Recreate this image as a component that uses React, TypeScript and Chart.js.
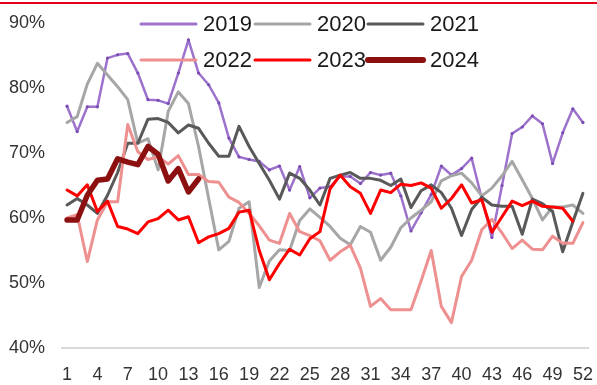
import React, { useEffect, useRef } from 'react';
import { Chart, registerables } from 'chart.js';

Chart.register(...registerables);

// Week numbers along the x axis
const weeks = [
  '1', '2', '3', '4', '5', '6', '7', '8', '9', '10', '11', '12', '13',
  '14', '15', '16', '17', '18', '19', '20', '21', '22', '23', '24', '25', '26',
  '27', '28', '29', '30', '31', '32', '33', '34', '35', '36', '37', '38', '39',
  '40', '41', '42', '43', '44', '45', '46', '47', '48', '49', '50', '51', '52',
];

// Weekly rate (%) by year
const rate2019 = [
  77.2, 73.3, 77.1, 77.1, 84.6, 85.1, 85.3, 82.3, 78.2, 78.1, 77.6, 82.3, 87.4,
  82.3, 80.5, 77.7, 72.3, 69.4, 69.0, 68.7, 67.4, 68.0, 64.3, 67.9, 63.1, 64.6,
  64.8, 66.4, 66.4, 65.3, 67.0, 66.6, 66.9, 63.4, 58.0, 60.8, 63.6, 68.0, 66.6,
  67.6, 69.2, 63.0, 57.0, 65.0, 73.0, 74.0, 75.7, 74.5, 68.4, 73.1, 76.8, 74.7,
];
const rate2020 = [
  74.7, 75.6, 80.6, 83.8, 82.0, 80.2, 78.2, 71.5, 72.2, 67.4, 76.4, 79.4, 77.6,
  71.0, 63.0, 55.1, 56.4, 61.5, 62.5, 49.3, 53.4, 55.1, 55.0, 59.6, 61.4, 60.1,
  58.7, 56.9, 55.9, 58.7, 57.8, 53.5, 55.5, 58.5, 60.0, 61.2, 62.5, 65.7, 66.5,
  66.9, 65.4, 63.4, 64.6, 66.5, 68.7, 65.9, 63.0, 59.7, 61.7, 61.7, 62.0, 60.7,
];
const rate2021 = [
  62.0, 63.0, 62.0, 60.7, 63.5, 67.0, 71.5, 71.5, 75.2, 75.3, 74.7, 73.1, 74.3,
  73.8, 71.5, 69.5, 69.5, 74.1, 71.0, 68.4, 65.8, 62.9, 66.9, 66.1, 64.3, 62.0,
  66.1, 66.6, 67.0, 66.1, 66.1, 65.8, 65.0, 66.0, 61.6, 64.2, 65.1, 63.9, 61.5,
  57.3, 61.3, 63.2, 62.0, 61.8, 61.8, 57.5, 62.9, 62.2, 61.0, 54.8, 59.4, 63.8,
];
const rate2022 = [
  60.0, 60.5, 53.3, 59.7, 62.5, 62.5, 74.4, 70.2, 69.0, 69.4, 68.3, 69.6, 66.7,
  66.7, 65.6, 65.5, 63.2, 62.4, 60.7, 58.8, 56.6, 56.1, 60.7, 57.9, 57.3, 56.5,
  53.5, 54.8, 55.8, 52.3, 46.4, 47.6, 45.9, 45.9, 45.9, 50.3, 55.0, 46.4, 43.9,
  51.0, 53.5, 58.2, 59.8, 57.7, 55.3, 56.6, 55.2, 55.1, 57.2, 56.1, 56.1, 59.3,
];
const rate2023 = [
  64.3, 63.4, 65.1, 61.0, 62.6, 58.7, 58.3, 57.6, 59.4, 59.9, 61.2, 59.7, 60.2,
  56.2, 57.1, 57.6, 58.4, 60.9, 61.2, 55.0, 50.5, 53.0, 55.2, 54.3, 56.8, 57.9,
  64.5, 66.6, 64.8, 63.8, 60.7, 64.3, 63.9, 65.2, 65.0, 65.4, 64.6, 61.5, 63.0,
  65.1, 62.3, 62.8, 57.8, 60.2, 62.6, 61.9, 62.6, 61.8, 61.7, 61.5, 59.5, null,
];
const rate2024 = [
  59.7, 59.7, 63.5, 65.8, 66.0, 69.1, 68.6, 68.2, 71.0, 69.8, 65.7, 67.6, 64.0,
  66.0,
];

const seriesLabels = ['2019', '2020', '2021', '2022', '2023', '2024'];
const seriesData = [rate2019, rate2020, rate2021, rate2022, rate2023, rate2024];
const seriesColors = ['#9C72CC', '#A6A6A6', '#595959', '#EE9090', '#FF0000', '#8C1010'];
const seriesWidths = [2.5, 3, 3, 3, 3, 5.5];

const yMin = 40;
const yMax = 90;
const yStep = 10;

const FONT = "'Liberation Sans', Arial, sans-serif";

// Two-row legend laid out in three columns above the plot
const gridLegend = {
  id: 'gridLegend',
  afterDatasetsDraw(chart: any) {
    const ctx = chart.ctx;
    const colX = [141, 255, 368];
    const rowY = [24, 60];
    const lineLen = 55;
    chart.data.datasets.forEach((ds: any, i: number) => {
      const x = colX[i % 3];
      const y = rowY[Math.floor(i / 3)];
      ctx.save();
      ctx.strokeStyle = ds.borderColor;
      ctx.lineWidth = i === 5 ? 6 : 3;
      ctx.lineCap = 'round';
      ctx.beginPath();
      ctx.moveTo(x, y);
      ctx.lineTo(x + lineLen, y);
      ctx.stroke();
      ctx.fillStyle = '#1a1a1a';
      ctx.font = `22px ${FONT}`;
      ctx.textBaseline = 'middle';
      ctx.textAlign = 'left';
      ctx.fillText(ds.label, x + lineLen + 7, y + 1);
      ctx.restore();
    });
  },
};

export default function App() {
  const canvasRef = useRef<HTMLCanvasElement | null>(null);

  useEffect(() => {
    if (!canvasRef.current) return;
    const datasets = seriesLabels.map((label, i) => ({
      label,
      data: seriesData[i],
      borderColor: seriesColors[i],
      backgroundColor: seriesColors[i],
      borderWidth: seriesWidths[i],
      pointRadius: i === 0 ? 1.6 : 0,
      pointBorderWidth: 0,
      pointBackgroundColor: i === 0 ? '#7B4CB3' : seriesColors[i],
      pointHoverRadius: 0,
      borderJoinStyle: 'round' as const,
      borderCapStyle: 'round' as const,
      tension: 0,
      spanGaps: false,
      fill: false,
      order: seriesLabels.length - i,
    }));

    const chart = new Chart(canvasRef.current, {
      type: 'line',
      data: { labels: weeks, datasets },
      plugins: [gridLegend],
      options: {
        animation: false,
        responsive: false,
        maintainAspectRatio: false,
        devicePixelRatio: 1,
        layout: { padding: { left: 0, right: 9, top: 23, bottom: 0 } },
        plugins: {
          legend: { display: false },
          tooltip: { enabled: false },
        },
        scales: {
          x: {
            offset: true,
            grid: { display: false, drawTicks: false },
            border: { display: true, color: '#D9D9D9', width: 2 },
            ticks: {
              autoSkip: false,
              maxRotation: 0,
              minRotation: 0,
              padding: 16,
              color: '#333333',
              font: { family: FONT, size: 18 },
              callback: (_v: any, idx: number) => (idx % 3 === 0 ? weeks[idx] : ''),
            },
            afterFit: (scale: any) => {
              scale.height = 37;
              scale.paddingLeft = 0;
              scale.paddingRight = 0;
            },
          },
          y: {
            min: yMin,
            max: yMax,
            grid: { display: false, drawTicks: false },
            border: { display: false },
            ticks: {
              stepSize: yStep,
              padding: 17,
              color: '#333333',
              font: { family: FONT, size: 18 },
              callback: (v: any) => `${v}%`,
            },
            afterFit: (scale: any) => {
              scale.width = 62;
              scale.paddingTop = 0;
              scale.paddingBottom = 0;
            },
          },
        },
      },
    });
    return () => chart.destroy();
  }, []);

  return (
    <div
      style={{
        position: 'fixed',
        left: 0,
        top: 0,
        width: 597,
        height: 385,
        background: '#ffffff',
        overflow: 'hidden',
      }}
    >
      <div
        style={{
          position: 'absolute',
          left: 0,
          top: 2,
          width: 597,
          height: 2,
          background: '#E3001B',
        }}
      />
      <canvas ref={canvasRef} width={597} height={385} style={{ display: 'block' }} />
    </div>
  );
}
